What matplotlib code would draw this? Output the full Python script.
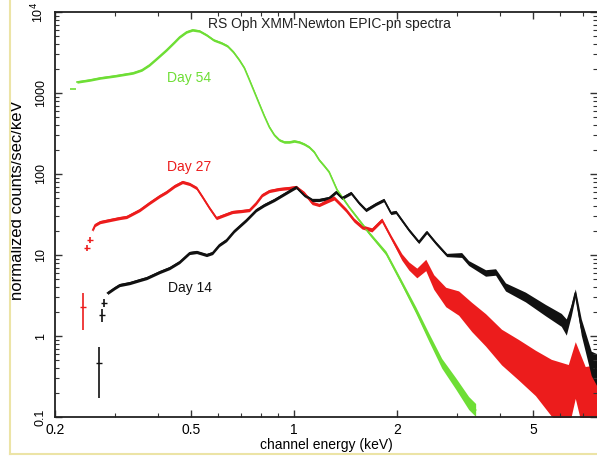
import numpy as np
import matplotlib
matplotlib.use("Agg")
import matplotlib.pyplot as plt
from matplotlib.lines import Line2D

plt.rcParams['font.family'] = ['Liberation Sans', 'DejaVu Sans']

# Day 54 (green): energy (keV), counts/sec/keV, half-width of the band (dex)
green_e = [0.232, 0.253, 0.271, 0.299, 0.338, 0.359, 0.378, 0.399, 0.424, 0.448,
           0.463, 0.485, 0.505, 0.529, 0.555, 0.582, 0.614, 0.639, 0.665, 0.692,
           0.716, 0.741, 0.766, 0.792, 0.819, 0.847, 0.876, 0.906, 0.937, 0.969,
           1.002, 1.036, 1.071, 1.108, 1.146, 1.185, 1.226, 1.267, 1.337, 1.449,
           1.658, 1.858, 2.068, 2.272, 2.479, 2.706, 2.972, 3.243, 3.40]
green_v = [1367, 1446, 1531, 1622, 1766, 1923, 2218, 2704, 3396, 4264,
           4912, 5662, 5998, 5825, 5200, 4510, 4141, 3802, 3206, 2556,
           2036, 1446, 1029, 731, 520, 380, 303, 263, 248, 248,
           255, 248, 234, 215, 187, 149, 126, 106, 63.5, 39.1,
           18.7, 10.6, 4.51, 2.09, 0.97, 0.46, 0.26, 0.149, 0.122]
green_d = [0.015, 0.015, 0.015, 0.015, 0.015, 0.015, 0.015, 0.015, 0.015, 0.015,
           0.015, 0.015, 0.015, 0.015, 0.015, 0.015, 0.015, 0.015, 0.015, 0.015,
           0.015, 0.015, 0.015, 0.015, 0.015, 0.015, 0.015, 0.015, 0.015, 0.015,
           0.015, 0.015, 0.015, 0.015, 0.015, 0.015, 0.015, 0.015, 0.015, 0.015,
           0.02, 0.025, 0.03, 0.04, 0.05, 0.06, 0.07, 0.08, 0.08]
green_first = [0.226, 1120]

# Day 27 (red)
red_e = [0.258, 0.262, 0.271, 0.289, 0.309, 0.324, 0.354, 0.378, 0.405, 0.424,
         0.448, 0.472, 0.495, 0.519, 0.540, 0.566, 0.593, 0.626, 0.661, 0.702,
         0.741, 0.776, 0.808, 0.847, 0.906, 0.969, 1.015, 1.071, 1.130, 1.185,
         1.250, 1.310, 1.355, 1.420, 1.498, 1.581, 1.691, 1.808, 1.921, 2.068,
         2.168, 2.288, 2.430, 2.564, 2.780, 3.032, 3.310, 3.635, 4.048, 4.536,
         5.085, 5.661, 6.346, 6.652, 7.112, 7.7]
red_v = [20.4, 23.5, 25.5, 27.0, 28.6, 29.5, 35.9, 43.9, 53.5, 59.9,
         71.1, 79.7, 75.3, 67.2, 52.0, 38.0, 28.6, 31.2, 34.0, 34.9,
         35.9, 43.9, 55.0, 61.7, 65.3, 67.2, 69.1, 58.3, 43.9, 41.4,
         46.4, 50.6, 43.9, 35.9, 27.0, 22.2, 20.4, 27.0, 16.7, 9.45,
         7.31, 6.00, 7.53, 4.64, 3.03, 2.55, 1.72, 1.19, 0.73, 0.51,
         0.35, 0.23, 0.177, 0.38, 0.149, 0.14]
red_d = [0.02, 0.02, 0.02, 0.02, 0.02, 0.02, 0.02, 0.02, 0.02, 0.02,
         0.02, 0.02, 0.02, 0.02, 0.02, 0.02, 0.02, 0.02, 0.02, 0.02,
         0.02, 0.02, 0.02, 0.02, 0.02, 0.02, 0.02, 0.02, 0.02, 0.02,
         0.025, 0.025, 0.025, 0.025, 0.025, 0.025, 0.025, 0.025, 0.025, 0.04,
         0.05, 0.06, 0.07, 0.09, 0.12, 0.15, 0.18, 0.2, 0.22, 0.25,
         0.28, 0.35, 0.4, 0.35, 0.45, 0.5]
red_pts_e = [0.241, 0.248, 0.253]
red_pts_v = [2.28, 12.2, 15.3]
red_pts_lo = [1.19, 11.1, 14.0]
red_pts_hi = [3.40, 13.4, 16.7]

# Day 14 (black)
black_e = [0.285, 0.299, 0.309, 0.331, 0.354, 0.371, 0.405, 0.433, 0.463, 0.495,
           0.519, 0.555, 0.578, 0.605, 0.635, 0.669, 0.726, 0.776, 0.819, 0.876,
           0.937, 1.015, 1.071, 1.130, 1.185, 1.267, 1.328, 1.383, 1.469, 1.550,
           1.624, 1.737, 1.833, 1.921, 1.987, 2.168, 2.318, 2.446, 2.599, 2.798,
           3.094, 3.243, 3.635, 3.888, 4.158, 4.754, 5.438, 6.054, 6.261, 6.474,
           6.652, 6.925, 7.405, 7.7]
black_v = [3.40, 3.91, 4.26, 4.51, 4.91, 5.20, 6.17, 6.91, 8.20, 10.6,
           10.9, 10.0, 10.6, 13.3, 15.3, 19.8, 27.0, 35.9, 41.4, 47.8,
           56.6, 69.1, 55.0, 47.8, 47.8, 50.6, 59.9, 50.6, 58.3, 43.9,
           35.9, 42.6, 47.8, 33.0, 34.0, 20.4, 14.5, 19.2, 14.1, 10.0,
           10.0, 7.96, 6.00, 6.17, 4.03, 3.03, 2.09, 1.58, 1.29, 2.09,
           3.40, 1.29, 0.46, 0.38]
black_d = [0.02, 0.02, 0.02, 0.02, 0.02, 0.02, 0.02, 0.02, 0.02, 0.02,
           0.02, 0.02, 0.02, 0.02, 0.02, 0.02, 0.02, 0.02, 0.02, 0.02,
           0.02, 0.02, 0.02, 0.02, 0.02, 0.02, 0.02, 0.02, 0.02, 0.02,
           0.02, 0.02, 0.02, 0.02, 0.02, 0.02, 0.02, 0.02, 0.02, 0.02,
           0.03, 0.03, 0.04, 0.04, 0.05, 0.06, 0.07, 0.08, 0.1, 0.07,
           0.05, 0.1, 0.15, 0.2]
black_pts_e = [0.269, 0.274, 0.278]
black_pts_v = [0.46, 1.82, 2.55]
black_pts_lo = [0.172, 1.49, 2.28]
black_pts_hi = [0.73, 2.15, 2.86]

GREEN = '#6ede35'
RED = '#ec1c1c'
BLACK = '#111111'

fig = plt.figure(figsize=(5.97, 4.59), dpi=100)
ax = fig.add_axes([55 / 597, 42 / 459, 542 / 597, 405 / 459])


def draw_spec(e, v, d, color):
    e = np.array(e)
    v = np.array(v)
    d = np.array(d)
    ax.fill_between(e, v * 10 ** -d, v * 10 ** d, color=color, lw=0)
    ax.plot(e, v, color=color, lw=1.2)


def draw_points(e, v, lo, hi, color):
    v = np.array(v)
    err = [v - np.array(lo), np.array(hi) - v]
    ax.errorbar(e, v, yerr=err, fmt='_', color=color, ms=4, elinewidth=1.2)


draw_spec(green_e, green_v, green_d, GREEN)
draw_spec(red_e, red_v, red_d, RED)
draw_spec(black_e, black_v, black_d, BLACK)

ax.plot(green_first[0], green_first[1], marker='_', color=GREEN, ms=4, mew=1.2)
draw_points(red_pts_e, red_pts_v, red_pts_lo, red_pts_hi, RED)
draw_points(black_pts_e, black_pts_v, black_pts_lo, black_pts_hi, BLACK)

ax.set_xscale('log')
ax.set_yscale('log')
ax.set_xlim(0.2, 7.7)
ax.set_ylim(0.1, 1e4)

ax.set_xticks([0.2, 0.5, 1, 2, 5])
ax.set_xticklabels(['0.2', '0.5', '1', '2', '5'])
ax.set_xticks([0.3, 0.4, 0.6, 0.7, 0.8, 0.9, 3, 4, 6, 7], minor=True)
ax.xaxis.set_minor_formatter(plt.NullFormatter())
ax.set_yticks([0.1, 1, 10, 100, 1000, 1e4])
ax.set_yticklabels(['0.1', '1', '10', '100', '1000', '10$^4$'], rotation=90,
                   va='center')

ax.tick_params(which='both', direction='in', top=True, right=True,
               color='#333333')
ax.tick_params(which='major', length=5, width=1)
ax.tick_params(which='minor', length=3, width=0.8)
ax.tick_params(axis='x', labelsize=10, pad=4)
ax.tick_params(axis='y', labelsize=9, pad=6)
for s in ['left', 'bottom', 'top']:
    ax.spines[s].set_linewidth(1.3)
    ax.spines[s].set_color('#222222')
ax.spines['right'].set_visible(False)

ax.set_xlabel('channel energy (keV)', fontsize=10, labelpad=1)
ax.set_ylabel('normalized counts/sec/keV', fontsize=12)
ax.yaxis.set_label_coords(-0.055, 0.535)

ax.text(0.506, 0.97, 'RS Oph XMM-Newton EPIC-pn spectra', transform=ax.transAxes,
        ha='center', va='center', fontsize=10, color='#222222')
ax.text(0.495, 1531, 'Day 54', color=GREEN, fontsize=10, ha='center', va='center')
ax.text(0.495, 122, 'Day 27', color=RED, fontsize=10, ha='center', va='center')
ax.text(0.495, 3.91, 'Day 14', color=BLACK, fontsize=10, ha='center', va='center')

# pale frame around the screenshot
frame = '#ece4a6'
fig.add_artist(Line2D([10 / 597, 10 / 597], [5 / 459, 1], color=frame, lw=1.5))
fig.add_artist(Line2D([10 / 597, 1], [5 / 459, 5 / 459], color=frame, lw=1.5))

fig.savefig('out.png', dpi=100)
